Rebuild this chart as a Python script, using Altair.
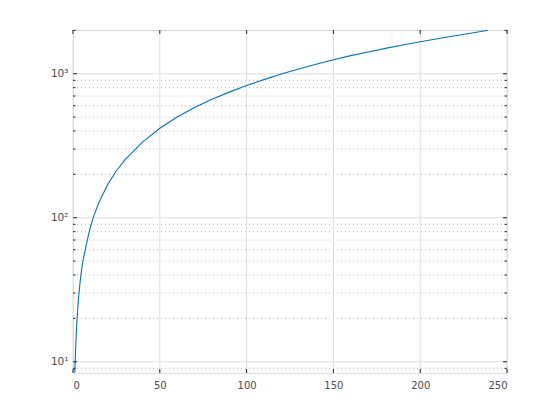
import altair as alt
import pandas as pd

# values
xs = [1, 2, 3, 4, 5, 6, 8, 10, 12, 15, 20, 25, 30, 40, 50, 60, 70, 80, 90, 100,
      110, 120, 130, 140, 150, 160, 170, 180, 190, 200, 210, 220, 230, 239]
ys = [8.4, 17, 26, 35, 44, 52, 68, 86, 103, 128, 170, 212, 253, 335, 418, 500,
      582, 665, 745, 828, 910, 995, 1080, 1165, 1250, 1335, 1415, 1500, 1585,
      1668, 1750, 1835, 1920, 2005]

x_ticks = [0, 50, 100, 150, 200, 250]
y_major = [10, 100, 1000]
y_minor = [9, 20, 30, 40, 50, 60, 70, 80, 90, 200, 300, 400, 500, 600, 700,
           800, 900, 2000]

X_DOMAIN = [0, 250]
Y_DOMAIN = [8.35, 2012]
W, H = 434, 343

df = pd.DataFrame({"x": xs, "y": ys})
xt = pd.DataFrame({"x": x_ticks})
ymaj = pd.DataFrame({"y": y_major})
ymin = pd.DataFrame({"y": y_minor})

xscale = alt.Scale(domain=X_DOMAIN, nice=False, zero=False)
yscale = alt.Scale(type="log", domain=Y_DOMAIN, nice=False, clamp=False)

AX = "#262626"
LBL = "#4a4a4a"

xaxis = alt.Axis(values=x_ticks, title=None, grid=False, ticks=False, domain=False,
                 labelFontSize=10, labelColor=LBL, labelPadding=7,
                 labelFont="DejaVu Sans")
yaxis = alt.Axis(values=y_major, title=None, grid=False, ticks=False, domain=False,
                 labelFontSize=10.5, labelColor=LBL, labelPadding=5,
                 labelFont="DejaVu Sans",
                 labelExpr="datum.value == 10 ? '10¹' : datum.value == 100 ? '10²' : '10³'")

def X(f="x"):
    return alt.X(f + ":Q", scale=xscale, axis=xaxis)

def Y(f="y"):
    return alt.Y(f + ":Q", scale=yscale, axis=yaxis)

# minor dotted grid
minor_grid = alt.Chart(ymin).mark_rule(color="#b8b8b8", strokeDash=[1, 3], strokeWidth=1).encode(
    y=Y(), x=alt.value(0), x2=alt.value(W))

xgrid = alt.Chart(xt).mark_rule(color="#dedede", strokeWidth=1).encode(
    x=X(), y=alt.value(0), y2=alt.value(H))
ygrid = alt.Chart(ymaj).mark_rule(color="#dedede", strokeWidth=1).encode(
    y=Y(), x=alt.value(0), x2=alt.value(W))

line = alt.Chart(df).mark_line(color="#0072BD", strokeWidth=1.1, clip=True).encode(
    x=X(), y=Y())

# inside ticks
xt_bot = alt.Chart(xt).mark_rule(color=AX).encode(x=X(), y=alt.value(H), y2=alt.value(H - 4))
xt_top = alt.Chart(xt).mark_rule(color=AX).encode(x=X(), y=alt.value(0), y2=alt.value(4))
yt_l = alt.Chart(ymaj).mark_rule(color=AX).encode(y=Y(), x=alt.value(0), x2=alt.value(4))
yt_r = alt.Chart(ymaj).mark_rule(color=AX).encode(y=Y(), x=alt.value(W), x2=alt.value(W - 4))
ym_l = alt.Chart(ymin).mark_rule(color=AX).encode(y=Y(), x=alt.value(0), x2=alt.value(2.5))
ym_r = alt.Chart(ymin).mark_rule(color=AX).encode(y=Y(), x=alt.value(W), x2=alt.value(W - 2.5))

chart = alt.layer(
    minor_grid, xgrid, ygrid, line, xt_bot, xt_top, yt_l, yt_r, ym_l, ym_r
).properties(
    width=W, height=H,
    autosize=alt.AutoSizeParams(type="none"),
    padding={"left": 65, "top": 22, "right": 45, "bottom": 40},
).configure_view(
    stroke=AX, strokeWidth=1
).configure(background="white")

chart.save("out.html", embed_options={"renderer": "svg", "actions": False})
